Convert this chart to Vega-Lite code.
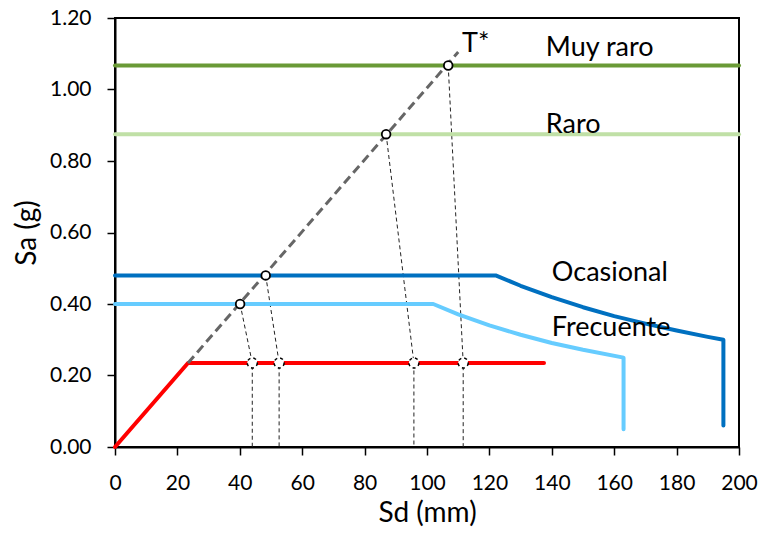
{
  "$schema": "https://vega.github.io/schema/vega-lite/v6.json",
  "width": 624,
  "height": 429,
  "autosize": "none",
  "padding": {"left": 115, "top": 18, "right": 24, "bottom": 89},
  "background": "white",
  "config": {
    "font": "Lato",
    "view": {"stroke": "black", "strokeWidth": 2},
    "axis": {
      "grid": false,
      "domainColor": "black",
      "domainWidth": 2,
      "tickColor": "black",
      "tickWidth": 1.5,
      "tickSize": 8,
      "labelFont": "Lato",
      "labelFontSize": 21,
      "labelColor": "black",
      "titleFont": "Lato",
      "titleFontSize": 28,
      "titleFontWeight": "normal",
      "titleColor": "black"
    }
  },
  "datasets": {
    "curves": [
      {"serie": "Frecuente", "k": 1, "sd": 0, "sa": 0.40},
      {"serie": "Frecuente", "k": 2, "sd": 102, "sa": 0.40},
      {"serie": "Frecuente", "k": 3, "sd": 110, "sa": 0.371},
      {"serie": "Frecuente", "k": 4, "sd": 120, "sa": 0.34},
      {"serie": "Frecuente", "k": 5, "sd": 130, "sa": 0.314},
      {"serie": "Frecuente", "k": 6, "sd": 140, "sa": 0.291},
      {"serie": "Frecuente", "k": 7, "sd": 150, "sa": 0.272},
      {"serie": "Frecuente", "k": 8, "sd": 163, "sa": 0.25},
      {"serie": "Frecuente", "k": 9, "sd": 163, "sa": 0.05},
      {"serie": "Ocasional", "k": 1, "sd": 0, "sa": 0.48},
      {"serie": "Ocasional", "k": 2, "sd": 122, "sa": 0.48},
      {"serie": "Ocasional", "k": 3, "sd": 130, "sa": 0.451},
      {"serie": "Ocasional", "k": 4, "sd": 140, "sa": 0.419},
      {"serie": "Ocasional", "k": 5, "sd": 150, "sa": 0.391},
      {"serie": "Ocasional", "k": 6, "sd": 160, "sa": 0.366},
      {"serie": "Ocasional", "k": 7, "sd": 170, "sa": 0.345},
      {"serie": "Ocasional", "k": 8, "sd": 180, "sa": 0.326},
      {"serie": "Ocasional", "k": 9, "sd": 190, "sa": 0.308},
      {"serie": "Ocasional", "k": 10, "sd": 195, "sa": 0.30},
      {"serie": "Ocasional", "k": 11, "sd": 195, "sa": 0.06},
      {"serie": "Raro", "k": 1, "sd": 0, "sa": 0.875},
      {"serie": "Raro", "k": 2, "sd": 200, "sa": 0.875},
      {"serie": "Muy raro", "k": 1, "sd": 0, "sa": 1.067},
      {"serie": "Muy raro", "k": 2, "sd": 200, "sa": 1.067},
      {"serie": "Capacidad", "k": 1, "sd": 0, "sa": 0},
      {"serie": "Capacidad", "k": 2, "sd": 23.4, "sa": 0.235},
      {"serie": "Capacidad", "k": 3, "sd": 137.5, "sa": 0.235}
    ],
    "tstar": [
      {"k": 1, "sd": 23.4, "sa": 0.235},
      {"k": 2, "sd": 110, "sa": 1.105}
    ],
    "guides": [
      {"g": "F", "k": 1, "sd": 40.1, "sa": 0.40},
      {"g": "F", "k": 2, "sd": 44.0, "sa": 0.235},
      {"g": "F", "k": 3, "sd": 44.0, "sa": 0},
      {"g": "O", "k": 1, "sd": 48.3, "sa": 0.48},
      {"g": "O", "k": 2, "sd": 52.6, "sa": 0.235},
      {"g": "O", "k": 3, "sd": 52.6, "sa": 0},
      {"g": "R", "k": 1, "sd": 86.9, "sa": 0.875},
      {"g": "R", "k": 2, "sd": 95.8, "sa": 0.235},
      {"g": "R", "k": 3, "sd": 95.8, "sa": 0},
      {"g": "M", "k": 1, "sd": 106.8, "sa": 1.067},
      {"g": "M", "k": 2, "sd": 111.6, "sa": 0.235},
      {"g": "M", "k": 3, "sd": 111.6, "sa": 0}
    ],
    "upper": [
      {"sd": 40.1, "sa": 0.40},
      {"sd": 48.3, "sa": 0.48},
      {"sd": 86.9, "sa": 0.875},
      {"sd": 106.8, "sa": 1.067}
    ],
    "lower": [
      {"sd": 44.0, "sa": 0.235},
      {"sd": 52.6, "sa": 0.235},
      {"sd": 95.8, "sa": 0.235},
      {"sd": 111.6, "sa": 0.235}
    ],
    "labels": [
      {"txt": "T*", "sd": 111.2, "sa": 1.104},
      {"txt": "Muy raro", "sd": 138.1, "sa": 1.094},
      {"txt": "Raro", "sd": 138.1, "sa": 0.879},
      {"txt": "Ocasional", "sd": 140.0, "sa": 0.465},
      {"txt": "Frecuente", "sd": 140.0, "sa": 0.31}
    ]
  },
  "encoding": {
    "x": {
      "field": "sd", "type": "quantitative",
      "scale": {"domain": [0, 200], "nice": false, "zero": false},
      "axis": {"title": "Sd (mm)", "values": [0, 20, 40, 60, 80, 100, 120, 140, 160, 180, 200], "labelPadding": 17, "titlePadding": 6, "labelFlush": false}
    },
    "y": {
      "field": "sa", "type": "quantitative",
      "scale": {"domain": [0, 1.2], "nice": false, "zero": false},
      "axis": {"title": "Sa (g)", "values": [0, 0.2, 0.4, 0.6, 0.8, 1.0, 1.2], "format": ".2f", "labelPadding": 16, "titlePadding": 8, "labelFlush": false}
    }
  },
  "layer": [
    {
      "data": {"name": "guides"},
      "mark": {"type": "line", "color": "#222222", "strokeWidth": 1, "strokeDash": [4, 3]},
      "encoding": {"detail": {"field": "g"}, "order": {"field": "k", "type": "quantitative"}}
    },
    {
      "data": {"name": "curves"},
      "mark": {"type": "line", "strokeWidth": 4, "strokeCap": "round", "strokeJoin": "round"},
      "encoding": {
        "color": {
          "field": "serie", "type": "nominal", "legend": null,
          "scale": {
            "domain": ["Raro", "Muy raro", "Frecuente", "Ocasional", "Capacidad"],
            "range": ["#C0E0A6", "#6A9A36", "#66CCFF", "#0070C0", "#FF0000"]
          }
        },
        "order": {"field": "k", "type": "quantitative"}
      }
    },
    {
      "data": {"name": "tstar"},
      "mark": {"type": "line", "color": "#666666", "strokeWidth": 3, "strokeDash": [9, 5]},
      "encoding": {"order": {"field": "k", "type": "quantitative"}}
    },
    {
      "data": {"name": "upper"},
      "mark": {"type": "point", "shape": "circle", "filled": false, "fill": "white", "fillOpacity": 1, "stroke": "black", "strokeWidth": 1.8, "size": 75, "opacity": 1}
    },
    {
      "data": {"name": "lower"},
      "mark": {"type": "point", "shape": "circle", "filled": false, "fill": "white", "fillOpacity": 1, "stroke": "black", "strokeWidth": 1.5, "strokeDash": [3, 3], "size": 100, "opacity": 1}
    },
    {
      "data": {"name": "labels"},
      "mark": {"type": "text", "align": "left", "baseline": "alphabetic", "font": "Lato", "fontSize": 27, "color": "black"},
      "encoding": {"text": {"field": "txt"}}
    }
  ]
}
